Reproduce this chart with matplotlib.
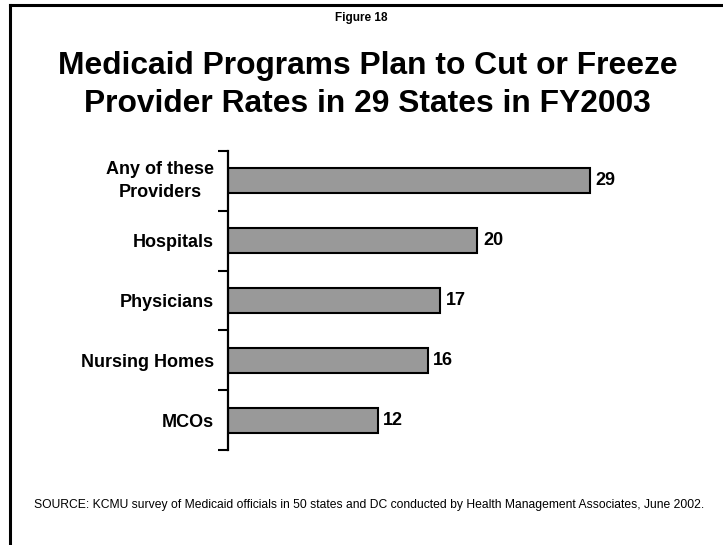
#!/usr/bin/env python3
# -*- coding: utf-8 -*-
"""Medicaid provider rate cuts/freezes FY2003 - horizontal bar chart."""
import numpy as np
import matplotlib
matplotlib.use("Agg")
import matplotlib.pyplot as plt
from matplotlib.lines import Line2D
from matplotlib.ticker import FixedLocator

plt.rcParams["font.family"] = ["Liberation Sans", "DejaVu Sans"]

# ===== dados =====
categorias = ["Any of these\nProviders", "Hospitals", "Physicians",
              "Nursing Homes", "MCOs"]
estados = [29, 20, 17, 16, 12]

FIG_W, FIG_H = 723, 545   # pixels (dpi 100)


def px(x0, y0, x1, y1):
    """Retangulo em pixels (origem no topo) -> coords da figura."""
    return [x0 / FIG_W, 1 - y1 / FIG_H, (x1 - x0) / FIG_W, (y1 - y0) / FIG_H]


fig = plt.figure(figsize=(FIG_W / 100, FIG_H / 100), dpi=100)
fig.patch.set_facecolor("white")

# moldura (so esquerda e topo aparecem)
fig.add_artist(Line2D([10 / FIG_W, 10 / FIG_W], [0, 1 - 5 / FIG_H],
                      transform=fig.transFigure, color="black", lw=2.2,
                      solid_capstyle="projecting"))
fig.add_artist(Line2D([10 / FIG_W, 1.01], [1 - 5 / FIG_H, 1 - 5 / FIG_H],
                      transform=fig.transFigure, color="black", lw=2.2,
                      solid_capstyle="projecting"))

fig.text(361 / FIG_W, 1 - 21 / FIG_H, "Figure 18", ha="center", va="baseline",
         fontsize=8.5, fontweight="bold")
fig.text(368 / FIG_W, 1 - 74 / FIG_H, "Medicaid Programs Plan to Cut or Freeze",
         ha="center", va="baseline", fontsize=22.9, fontweight="bold")
fig.text(367 / FIG_W, 1 - 112 / FIG_H, "Provider Rates in 29 States in FY2003",
         ha="center", va="baseline", fontsize=22.9, fontweight="bold")

XMAX = 38
ax = fig.add_axes(px(228, 151, 228 + XMAX * 12.47, 450))
y = np.arange(len(categorias))
bars = ax.barh(y, estados, height=0.42, color="#999999",
               edgecolor="black", linewidth=1.5)
for b, v in zip(bars, estados):
    ax.annotate(str(v), (b.get_width(), b.get_y() + b.get_height() / 2),
                xytext=(4, 0), textcoords="offset points",
                ha="left", va="center", fontsize=13, fontweight="bold")

ax.set_xlim(0, XMAX)
ax.set_ylim(len(categorias) - 0.5, -0.5)
ax.set_yticks(y)
ax.set_yticklabels(categorias, fontsize=13, fontweight="bold")
for lbl in ax.get_yticklabels():
    lbl.set_multialignment("center")
    lbl.set_linespacing(1.45)
    if "\n" in lbl.get_text():
        lbl.set_verticalalignment("center")
ax.yaxis.set_minor_locator(FixedLocator(np.arange(len(categorias) + 1) - 0.5))
ax.tick_params(axis="y", which="major", length=0, pad=10)
ax.tick_params(axis="y", which="minor", length=7, width=1.5, direction="out")
ax.set_xticks([])
for s in ("top", "right", "bottom"):
    ax.spines[s].set_visible(False)
ax.spines["left"].set_linewidth(1.6)

fig.text(369 / FIG_W, 1 - 505 / FIG_H,
         "SOURCE: KCMU survey of Medicaid officials in 50 states and DC "
         "conducted by Health Management Associates, June 2002.",
         ha="center", va="center", fontsize=8.7)

fig.savefig("out.png", dpi=100, facecolor="white")
